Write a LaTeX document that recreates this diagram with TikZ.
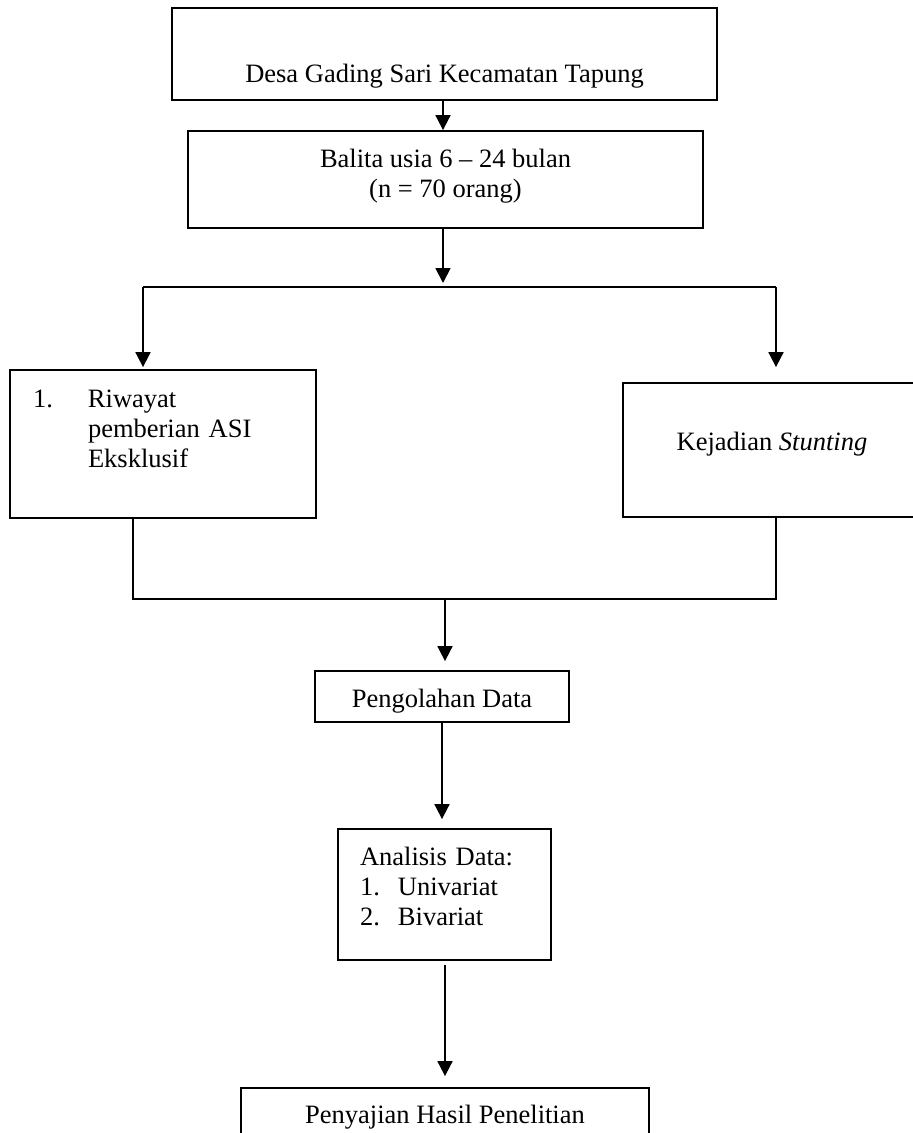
\documentclass[tikz,border=0pt]{standalone}
\usepackage{fontspec}
\setmainfont{Liberation Serif}
\usepackage{tikz}
\usepackage{xcolor}
\usetikzlibrary{positioning}
\usetikzlibrary{arrows.meta}

\begin{document}
\begin{tikzpicture}[x=1pt, y=1pt,
		box/.style={draw, line width=1.8pt, inner xsep=0pt, inner ysep=0pt, font=\fontsize{26.5}{30}\selectfont},
		conn/.style={-, draw, line width=1.8pt},
		arr/.style={conn, -{Triangle[length=15pt, width=15pt]}}]
			\useasboundingbox (0,0) rectangle (913,-1133);
			\clip (0,0) rectangle (913,-1133);
			\node[box, line width=2.6pt, minimum width=545pt, text height=74pt, text depth=18pt] (desa) at (444.5, -54.0) {Desa Gading Sari Kecamatan Tapung};
			\node[box, minimum width=515pt, text height=36pt, text depth=61pt] (balita) at (445.5, -179.5) {\begin{tabular}[t]{@{}c@{}}Balita usia 6 \textendash{} 24 bulan\\ (n = 70 orang)\end{tabular}};
			\node[box, text width=260pt, inner xsep=23pt, text height=37pt, text depth=111pt] (riwayat) at (163.0, -444.0) {\begin{tabular}[t]{@{}p{55pt}@{}p{205pt}@{}}1. & Riwayat\\ & pemberian ASI\\ & Eksklusif\end{tabular}};
			\node[box, minimum width=298pt, text height=67pt, text depth=67pt] (kejadian) at (772.0, -450.0) {Kejadian \textit{Stunting}};
			\node[box, minimum width=254pt, text height=36pt, text depth=15pt] (olah) at (442.0, -696.5) {Pengolahan Data};
			\node[box, text width=169pt, inner xsep=22pt, text height=36pt, text depth=95pt] (analisis) at (444.5, -894.5) {\begin{tabular}[t]{@{}p{38pt}@{}p{131pt}@{}}\multicolumn{2}{@{}l@{}}{Analisis Data:}\\ 1. & Univariat\\ 2. & Bivariat\end{tabular}};
			\node[box, minimum width=408pt, text height=35pt, text depth=16pt] (hasil) at (445.0, -1113.5) {Penyajian Hasil Penelitian};
			\coordinate (fork) at (443.0, -287.0);
			\coordinate (forkleft) at (143.0, -287.0);
			\coordinate (forkright) at (776.0, -287.0);
			\coordinate (join) at (445.0, -599.0);
			\coordinate (joinleft) at (133.0, -599.0);
			\coordinate (joinright) at (776.0, -599.0);
			\draw[arr] (desa.south -| fork) to (fork |- balita.north);
			\draw[arr, shorten >=4pt] (balita.south -| fork) to (fork);
			\draw[conn] (forkleft) to (forkright);
			\draw[arr, shorten >=2pt] (forkleft) to (forkleft |- riwayat.north);
			\draw[arr, shorten >=15pt] (forkright) to (forkright |- kejadian.north);
			\draw[conn] (riwayat.south -| joinleft) to (joinleft) to (joinright) to (kejadian.south -| joinright);
			\draw[arr, shorten >=9pt] (join) to (join |- olah.north);
			\draw[arr, shorten >=9pt] (olah.south) to (olah.south |- analisis.north);
			\draw[arr, shorten <=4pt, shorten >=11pt] (analisis.south -| join) to (join |- hasil.north);
		\end{tikzpicture}
\end{document}
